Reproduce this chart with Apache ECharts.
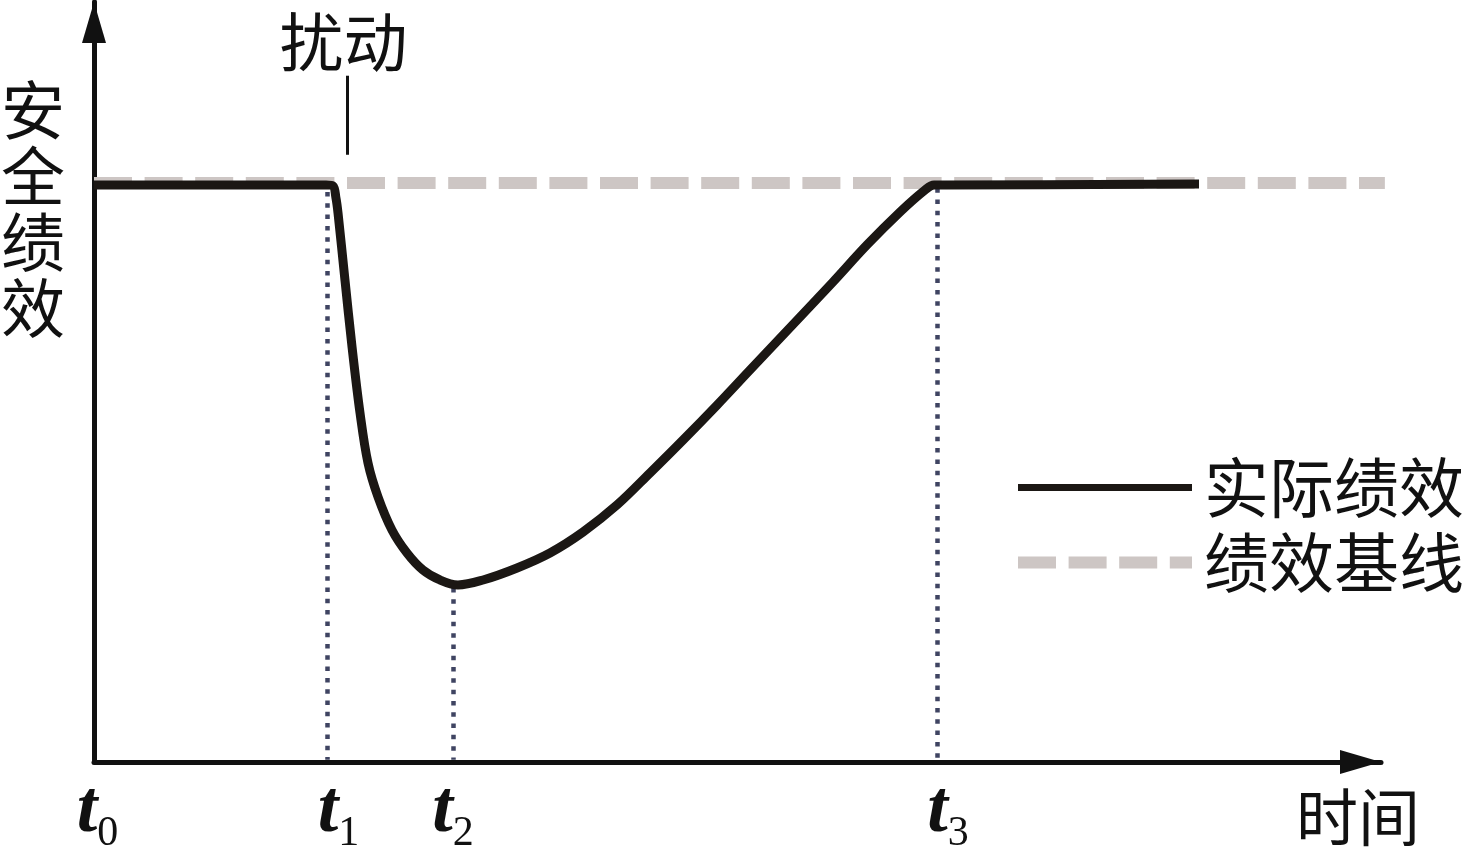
<!DOCTYPE html>
<html><head><meta charset="utf-8">
<script src="https://cdn.jsdelivr.net/npm/echarts@6/dist/echarts.min.js"></script>
<style>html,body{margin:0;padding:0;background:#fff}#c{width:1469px;height:849px}</style>
</head><body><div id="c"></div>
<script>
// ---- data (x = time 0..100, y = performance 0..100) ----
const actualX = [0, 18.03, 18.57, 18.80, 18.96, 19.50, 20.05, 20.67, 21.29, 22.07, 23.15, 24.32, 25.56, 26.88, 28.28, 30.23, 32.87, 35.43, 38.00, 40.64, 43.20, 45.77, 48.41, 50.97, 54.86, 57.42, 60.06, 62.63, 64.57, 65.27, 66.12, 85.86];
const actualY = [75.92, 75.92, 75.79, 74.21, 72.24, 63.42, 54.61, 45.92, 39.34, 34.87, 30.53, 27.50, 25.26, 23.95, 23.29, 23.95, 25.53, 27.50, 30.26, 33.82, 38.03, 42.37, 46.97, 51.58, 58.55, 63.16, 68.03, 72.37, 75.26, 75.92, 75.92, 76.05];
const baselineX = [0, 100.3];
const baselineY = [76.18, 76.18];
const tickTimes = [0, 18.1, 27.9, 65.5];
const tickSubs = ['0', '1', '2', '3'];
const dropTimes = [18.1, 27.9, 65.5];
const dropTops = [75.0, 22.9, 75.5];
const disturbTime = 19.7;
const disturbSpan = [79.9, 90.3];
const seriesNames = ['实际绩效', '绩效基线'];
const yAxisTitle = '安全绩效';
const xAxisTitle = '时间';
const disturbLabel = '扰动';

// ---- styles ----
const CJK = '"Noto Sans CJK SC", "Noto Sans", sans-serif';
const SERIF = '"Liberation Serif", "DejaVu Serif", serif';
const INK = '#111111';
const BASE_GRAY = '#cdc6c4';
const BASE_DASH = [38, 12.6];
const labelShift = [7, 23, 0, 22];

const rich = { s: { fontSize: 42, fontFamily: SERIF, color: INK, verticalAlign: 'bottom' } };
tickSubs.forEach((s, i) => {
  rich['t' + i] = { fontSize: 74, fontFamily: SERIF, fontStyle: 'italic', fontWeight: 'bold', color: INK, padding: [0, 0, 6, labelShift[i]] };
});

const actualData = actualX.map((x, i) => [x, actualY[i]]);
const baselineData = baselineX.map((x, i) => [x, baselineY[i]]);
const dropLines = dropTimes.map((t, i) => [{ coord: [t, dropTops[i]] }, { coord: [t, 0.3] }]);

const chart = echarts.init(document.getElementById('c'));
chart.setOption({
  animation: false,
  backgroundColor: '#ffffff',
  title: {
    text: yAxisTitle.split('').join('\n'),
    left: 1, top: 77, padding: 0,
    textStyle: { fontSize: 64, lineHeight: 66, fontWeight: 'normal', color: INK, fontFamily: CJK }
  },
  legend: {
    orient: 'vertical', left: 1012, top: 455, padding: 0,
    itemWidth: 174, itemHeight: 14, itemGap: 10,
    itemStyle: { opacity: 0 },
    data: [
      { name: seriesNames[0], lineStyle: { width: 7, color: '#1b1714' } },
      { name: seriesNames[1], lineStyle: { width: 12, color: BASE_GRAY, type: BASE_DASH, cap: 'butt' } }
    ],
    textStyle: { fontSize: 65, color: INK, fontFamily: CJK, padding: [0, 0, 10, 7] }
  },
  grid: { left: 94, right: 88, top: 2, bottom: 87, containLabel: false, outerBoundsMode: 'none' },
  xAxis: {
    type: 'value', min: 0, max: 100,
    name: xAxisTitle, nameLocation: 'end', nameGap: 39,
    nameTextStyle: { fontSize: 62, color: INK, fontFamily: CJK, align: 'right', verticalAlign: 'top', padding: [24, 0, 0, 0] },
    axisLine: { show: true, lineStyle: { color: INK, width: 5 }, symbol: ['none', 'triangle'], symbolSize: [24, 41], symbolOffset: [0, -20.5] },
    axisTick: { show: false },
    splitLine: { show: false },
    axisLabel: {
      customValues: tickTimes, margin: 13,
      formatter: function (v) { const i = tickTimes.indexOf(v); return '{t' + i + '|t}{s|' + tickSubs[i] + '}'; },
      rich: rich
    }
  },
  yAxis: {
    type: 'value', min: 0, max: 100,
    axisLine: { show: true, lineStyle: { color: INK, width: 5 }, symbol: ['none', 'triangle'], symbolSize: [24, 41], symbolOffset: [0, -20.5] },
    axisTick: { show: false }, axisLabel: { show: false }, splitLine: { show: false }
  },
  series: [
    {
      name: seriesNames[1], type: 'line', data: baselineData, symbol: 'none', clip: false, z: 1,
      itemStyle: { color: BASE_GRAY },
      lineStyle: { color: BASE_GRAY, width: 12, type: BASE_DASH, cap: 'butt' },
      markLine: {
        silent: true, symbol: 'none',
        lineStyle: { color: INK, width: 3, type: 'solid' },
        label: { show: true, position: 'end', formatter: disturbLabel, fontSize: 64, color: INK, fontFamily: CJK, distance: 2, offset: [-4, 0] },
        data: [[{ coord: [disturbTime, disturbSpan[0]] }, { coord: [disturbTime, disturbSpan[1]] }]]
      }
    },
    {
      name: seriesNames[0], type: 'line', data: actualData, symbol: 'none', smooth: 0.35, z: 3,
      itemStyle: { color: '#1b1714' },
      lineStyle: { color: '#1b1714', width: 9, join: 'round', cap: 'butt' },
      markLine: {
        silent: true, symbol: 'none', z: 2,
        lineStyle: { color: '#3f4462', width: 4.5, type: [4.5, 6.8], cap: 'butt' },
        label: { show: false },
        data: dropLines
      }
    }
  ]
});
</script></body></html>
